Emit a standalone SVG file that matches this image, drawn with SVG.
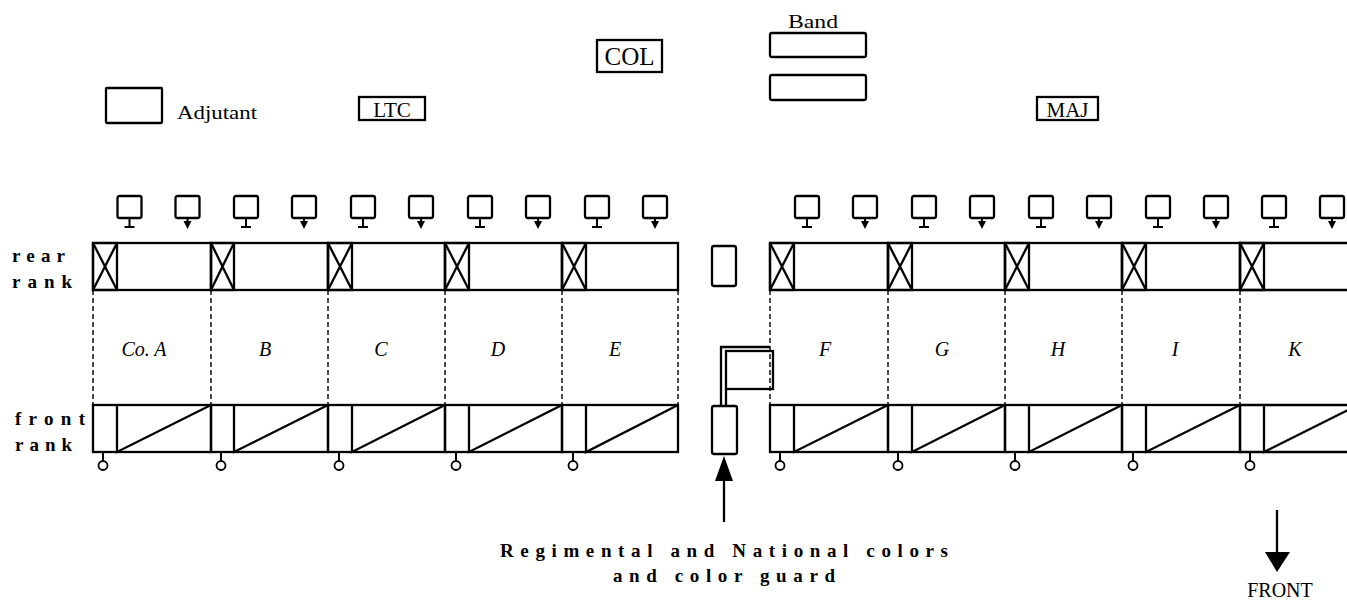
<svg xmlns="http://www.w3.org/2000/svg" xmlns:xlink="http://www.w3.org/1999/xlink" width="1347" height="600" viewBox="0 0 1347 600">
<style>
.s{fill:none;stroke:#000;stroke-width:2.3}
.t{stroke:#000;stroke-width:2}
.d{fill:none;stroke:#000;stroke-width:1.4;stroke-dasharray:5 3}
.lab{font-family:"Liberation Serif",serif;fill:#000}
.co{font-family:"Liberation Serif",serif;font-style:italic;font-size:20px;fill:#000;text-anchor:middle}
.rk{font-family:"Liberation Serif",serif;font-weight:bold;font-size:19px;fill:#000}
</style>
<defs>
<g id="mT"><rect class="s" x="-12" y="0" width="24" height="22" rx="2"/><line class="t" x1="0" y1="22" x2="0" y2="31"/><line class="t" x1="-5" y1="31" x2="5" y2="31"/></g>
<g id="mA"><rect class="s" x="-12" y="0" width="24" height="22" rx="2"/><line class="t" x1="0" y1="22" x2="0" y2="27"/><polygon points="-4,25 4,25 0,33" fill="#000"/></g>
<g id="circ"><line class="t" x1="0" y1="452" x2="0" y2="461"/><circle cx="0" cy="465.5" r="4.5" fill="#fff" stroke="#000" stroke-width="1.8"/></g>
</defs>
<rect width="1347" height="600" fill="#fff"/>

<g id="officers">
<g id="adjutant"><rect class="s" x="106" y="88" width="56" height="35" rx="1"/><text class="lab" x="177" y="119" font-size="18" textLength="80" lengthAdjust="spacingAndGlyphs">Adjutant</text></g>
<g id="ltc"><rect class="s" x="359" y="97" width="66" height="23"/><text class="lab" x="392" y="116.5" font-size="21" text-anchor="middle">LTC</text></g>
<g id="col"><rect class="s" x="597" y="40" width="65" height="32"/><text class="lab" x="629.5" y="65" font-size="25" text-anchor="middle">COL</text></g>
<g id="band"><text class="lab" x="788" y="28" font-size="19" textLength="50" lengthAdjust="spacingAndGlyphs">Band</text><rect class="s" x="770" y="33" width="96" height="24" rx="2"/><rect class="s" x="770" y="75" width="96" height="25" rx="2"/></g>
<g id="maj"><rect class="s" x="1037" y="97" width="61" height="23"/><text class="lab" x="1067.5" y="116.5" font-size="21" text-anchor="middle">MAJ</text></g>
</g>

<g id="rank-labels">
<text class="rk" x="12" y="262" textLength="53" lengthAdjust="spacing">rear</text>
<text class="rk" x="12" y="288" textLength="60" lengthAdjust="spacing">rank</text>
<text class="rk" x="15" y="425" textLength="70" lengthAdjust="spacing">front</text>
<text class="rk" x="15" y="451" textLength="57" lengthAdjust="spacing">rank</text>
</g>

<g id="connectors">
<line class="d" x1="93" y1="290" x2="93" y2="405"/>
<line class="d" x1="211" y1="290" x2="211" y2="405"/>
<line class="d" x1="328" y1="290" x2="328" y2="405"/>
<line class="d" x1="445" y1="290" x2="445" y2="405"/>
<line class="d" x1="562" y1="290" x2="562" y2="405"/>
<line class="d" x1="678" y1="290" x2="678" y2="405"/>
<line class="d" x1="770" y1="290" x2="770" y2="405"/>
<line class="d" x1="888" y1="290" x2="888" y2="405"/>
<line class="d" x1="1005" y1="290" x2="1005" y2="405"/>
<line class="d" x1="1122" y1="290" x2="1122" y2="405"/>
<line class="d" x1="1240" y1="290" x2="1240" y2="405"/>
<line class="s" x1="724" y1="522" x2="724" y2="478"/>
<polygon points="715,481 733,481 724,456" fill="#000"/>
<line class="s" x1="1277" y1="510" x2="1277" y2="555"/>
<polygon points="1265,552 1290,552 1277,572" fill="#000"/>
</g>

<g id="coA">
<rect class="s" x="93" y="243" width="118" height="47"/><rect class="s" x="93" y="243" width="24" height="47"/><path class="s" d="M93,243 L117,290 M117,243 L93,290"/>
<rect class="s" x="93" y="405" width="118" height="47"/><path class="s" d="M117,405 V452 L211,405"/>
<use xlink:href="#circ" x="103"/><use xlink:href="#mT" x="129.5" y="196"/><use xlink:href="#mA" x="187.5" y="196"/>
<text class="co" x="144" y="356">Co. A</text>
</g>
<g id="coB">
<rect class="s" x="211" y="243" width="117" height="47"/><rect class="s" x="211" y="243" width="23" height="47"/><path class="s" d="M211,243 L234,290 M234,243 L211,290"/>
<rect class="s" x="211" y="405" width="117" height="47"/><path class="s" d="M234,405 V452 L328,405"/>
<use xlink:href="#circ" x="221"/><use xlink:href="#mT" x="246" y="196"/><use xlink:href="#mA" x="304" y="196"/>
<text class="co" x="265" y="356">B</text>
</g>
<g id="coC">
<rect class="s" x="328" y="243" width="117" height="47"/><rect class="s" x="328" y="243" width="24" height="47"/><path class="s" d="M328,243 L352,290 M352,243 L328,290"/>
<rect class="s" x="328" y="405" width="117" height="47"/><path class="s" d="M352,405 V452 L445,405"/>
<use xlink:href="#circ" x="339"/><use xlink:href="#mT" x="363" y="196"/><use xlink:href="#mA" x="421" y="196"/>
<text class="co" x="381" y="356">C</text>
</g>
<g id="coD">
<rect class="s" x="445" y="243" width="117" height="47"/><rect class="s" x="445" y="243" width="24" height="47"/><path class="s" d="M445,243 L469,290 M469,243 L445,290"/>
<rect class="s" x="445" y="405" width="117" height="47"/><path class="s" d="M469,405 V452 L562,405"/>
<use xlink:href="#circ" x="456"/><use xlink:href="#mT" x="480" y="196"/><use xlink:href="#mA" x="538" y="196"/>
<text class="co" x="498" y="356">D</text>
</g>
<g id="coE">
<rect class="s" x="562" y="243" width="116" height="47"/><rect class="s" x="562" y="243" width="24" height="47"/><path class="s" d="M562,243 L586,290 M586,243 L562,290"/>
<rect class="s" x="562" y="405" width="116" height="47"/><path class="s" d="M586,405 V452 L678,405"/>
<use xlink:href="#circ" x="573"/><use xlink:href="#mT" x="597" y="196"/><use xlink:href="#mA" x="655" y="196"/>
<text class="co" x="615" y="356">E</text>
</g>

<g id="colors">
<rect class="s" x="712" y="246" width="24" height="40" rx="2"/>
<rect class="s" x="712" y="406" width="25" height="48" rx="2"/>
<path class="s" d="M721,406 V347 H770"/>
<line class="s" x1="726" y1="389" x2="726" y2="406"/>
<rect class="s" x="726" y="351" width="47" height="38"/>
</g>

<g id="coF">
<rect class="s" x="770" y="243" width="118" height="47"/><rect class="s" x="770" y="243" width="24" height="47"/><path class="s" d="M770,243 L794,290 M794,243 L770,290"/>
<rect class="s" x="770" y="405" width="118" height="47"/><path class="s" d="M794,405 V452 L888,405"/>
<use xlink:href="#circ" x="780"/><use xlink:href="#mT" x="807" y="196"/><use xlink:href="#mA" x="865" y="196"/>
<text class="co" x="825" y="356">F</text>
</g>
<g id="coG">
<rect class="s" x="888" y="243" width="117" height="47"/><rect class="s" x="888" y="243" width="24" height="47"/><path class="s" d="M888,243 L912,290 M912,243 L888,290"/>
<rect class="s" x="888" y="405" width="117" height="47"/><path class="s" d="M912,405 V452 L1005,405"/>
<use xlink:href="#circ" x="898"/><use xlink:href="#mT" x="924" y="196"/><use xlink:href="#mA" x="982" y="196"/>
<text class="co" x="942" y="356">G</text>
</g>
<g id="coH">
<rect class="s" x="1005" y="243" width="117" height="47"/><rect class="s" x="1005" y="243" width="24" height="47"/><path class="s" d="M1005,243 L1029,290 M1029,243 L1005,290"/>
<rect class="s" x="1005" y="405" width="117" height="47"/><path class="s" d="M1029,405 V452 L1122,405"/>
<use xlink:href="#circ" x="1015"/><use xlink:href="#mT" x="1041" y="196"/><use xlink:href="#mA" x="1099" y="196"/>
<text class="co" x="1058" y="356">H</text>
</g>
<g id="coI">
<rect class="s" x="1122" y="243" width="118" height="47"/><rect class="s" x="1122" y="243" width="24" height="47"/><path class="s" d="M1122,243 L1146,290 M1146,243 L1122,290"/>
<rect class="s" x="1122" y="405" width="118" height="47"/><path class="s" d="M1146,405 V452 L1240,405"/>
<use xlink:href="#circ" x="1133"/><use xlink:href="#mT" x="1158" y="196"/><use xlink:href="#mA" x="1216" y="196"/>
<text class="co" x="1175" y="356">I</text>
</g>
<g id="coK">
<path class="s" d="M1360,243 H1240 V290 H1360"/><rect class="s" x="1240" y="243" width="24" height="47"/><path class="s" d="M1240,243 L1264,290 M1264,243 L1240,290"/>
<path class="s" d="M1360,405 H1240 V452 H1360"/><path class="s" d="M1264,405 V452 L1358,405"/>
<use xlink:href="#circ" x="1250"/><use xlink:href="#mT" x="1274" y="196"/><use xlink:href="#mA" x="1332" y="196"/>
<text class="co" x="1295" y="356">K</text>
</g>

<g id="captions">
<text class="rk" x="500" y="557" font-size="17" textLength="448" lengthAdjust="spacing">Regimental and National colors</text>
<text class="rk" x="613" y="582" font-size="17" textLength="222" lengthAdjust="spacing">and color guard</text>
<text class="lab" x="1280" y="597" font-size="20" text-anchor="middle">FRONT</text>
</g>
</svg>
